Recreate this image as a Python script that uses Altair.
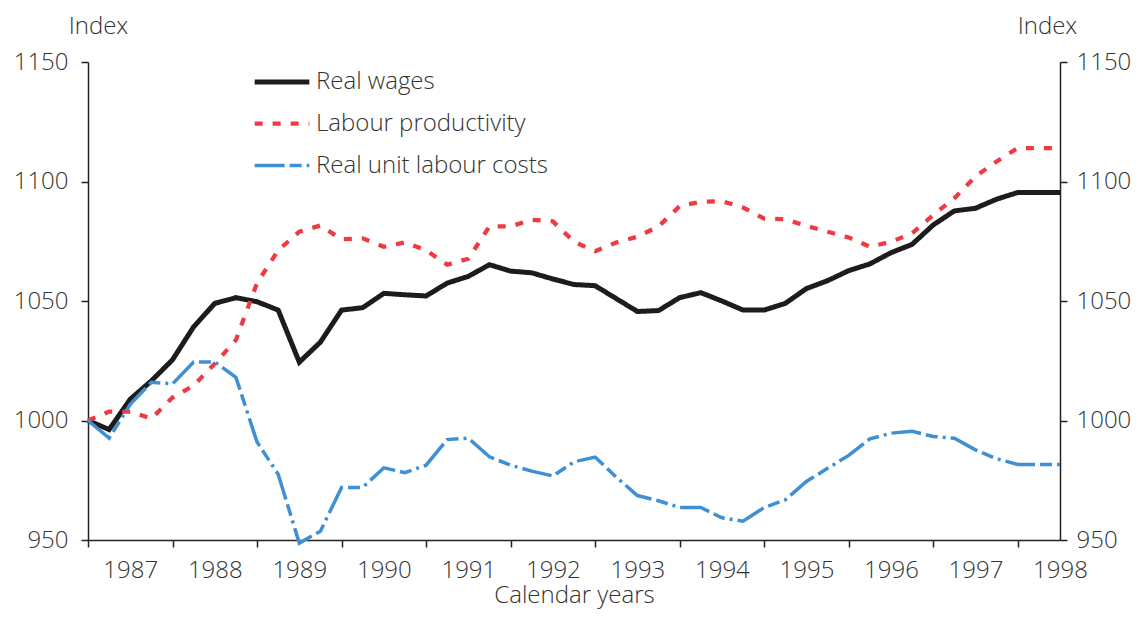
import json
import altair as alt
import pandas as pd

# quarterly index t (0 = first quarter shown), 47 observations
quarters = list(range(47))
year_labels = ["1987", "1988", "1989", "1990", "1991", "1992",
               "1993", "1994", "1995", "1996", "1997", "1998"]

series_names = ["Real wages", "Labour productivity", "Real unit labour costs"]

real_wages = [1000, 996.2, 1008.9, 1016.6, 1025.4, 1039.2, 1049, 1051.4, 1049.7, 1046.2,
              1024.4, 1032.8, 1046.2, 1047.2, 1053.2, 1052.6, 1052.1, 1057.5, 1060.3, 1065.2,
              1062.5, 1061.8, 1059.2, 1056.9, 1056.4, 1051, 1045.6, 1046, 1051.4, 1053.5,
              1050, 1046.2, 1046.2, 1049, 1055.2, 1058.5, 1062.7, 1065.5, 1070.2, 1073.7,
              1081.8, 1087.7, 1088.8, 1092.6, 1095.4, 1095.4, 1095.4]

labour_productivity = [1000, 1003.7, 1003.7, 1000.8, 1009.6, 1014.6, 1023.8, 1033.7, 1057.5, 1071.2,
                       1079, 1081.6, 1075.8, 1076.2, 1072.7, 1074.5, 1071.2, 1065.2, 1067.7, 1081.2,
                       1081.2, 1084, 1083.3, 1074.8, 1070.8, 1074.5, 1076.9, 1081.2, 1089.7, 1091.5,
                       1091.8, 1089.1, 1084.5, 1084.2, 1081.4, 1079, 1076.6, 1072.7, 1074.8, 1078.3,
                       1086, 1093, 1102.1, 1108.4, 1114, 1114, 1114]

real_unit_labour_costs = [1000, 992.6, 1006.8, 1016, 1015.3, 1024.5, 1024.5, 1018.1, 991, 977.5,
                          948.7, 953.7, 972, 972, 980.2, 978.2, 981.3, 992, 992.6, 984.8,
                          981.3, 978.8, 976.8, 982.7, 984.7, 976.3, 968.6, 966.4, 963.6, 963.6,
                          959.3, 957.9, 963.6, 966.8, 974.5, 980, 985.4, 992.3, 994.7, 995.5,
                          993.3, 992.6, 987.7, 984, 981.6, 981.6, 981.6]

y_ticks = [950, 1000, 1050, 1100, 1150]

df = pd.DataFrame({
    "t": quarters,
    "Real wages": real_wages,
    "Labour productivity": labour_productivity,
    "Real unit labour costs": real_unit_labour_costs,
})
long = df.melt(id_vars="t", var_name="series", value_name="value")

FONT = "Open Sans"
WEIGHT = 300
TXT = "#333333"
AX = "#222222"

label_expr = ("datum.value % 4 == 2 ? " + json.dumps(year_labels) +
              "[(datum.value - 2) / 4] : ''")

x_enc = alt.X(
    "t:Q",
    scale=alt.Scale(domain=[0, 46], nice=False, zero=False),
    axis=alt.Axis(
        values=list(range(0, 47, 2)),
        labelExpr=label_expr,
        tickColor={"condition": {"test": "datum.value % 4 == 0", "value": AX},
                   "value": "transparent"},
        title="Calendar years",
        titleY=62,
        titleBaseline="alphabetic",
        titleFontSize=24,
        labelFontSize=24,
        labelPadding=11,
        labelFlush=False,
        labelOverlap=False,
    ),
)

y_scale = alt.Scale(domain=[950, 1150], nice=False, zero=False)


def make_legend():
    return alt.Legend(title=None, orient="none", legendX=164, legendY=-10,
                      symbolType="stroke", symbolSize=2990,
                      labelFontSize=24, labelFont=FONT, labelColor=TXT,
                      labelFontWeight=WEIGHT,
                      labelOffset=4, rowPadding=0, labelLimit=400)


lines = alt.Chart(long).mark_line(interpolate="linear").encode(
    x=x_enc,
    y=alt.Y("value:Q", scale=y_scale,
            axis=alt.Axis(values=y_ticks, orient="left", title="Index", format="d",
                          titleAngle=0, titleX=10, titleY=-29,
                          titleAlign="center", titleBaseline="alphabetic",
                          labelFontSize=24, labelPadding=13)),
    color=alt.Color("series:N",
                    scale=alt.Scale(domain=series_names,
                                    range=["#1c1c1c", "#ee3a43", "#3f8fd4"]),
                    legend=make_legend()),
    strokeDash=alt.StrokeDash("series:N",
                              scale=alt.Scale(domain=series_names,
                                              range=[[1, 0], [8, 10], [30, 5, 12, 5, 3, 5]]),
                              legend=make_legend()),
    strokeWidth=alt.StrokeWidth("series:N",
                                scale=alt.Scale(domain=series_names, range=[5, 3.5, 3.5]),
                                legend=make_legend()),
)

right_axis = alt.Chart(long).mark_line(opacity=0).encode(
    x=alt.X("t:Q", scale=alt.Scale(domain=[0, 46], nice=False, zero=False)),
    y=alt.Y("value:Q", scale=y_scale,
            axis=alt.Axis(values=y_ticks, orient="right", title="Index", format="d",
                          titleAngle=0, titleX=-13, titleY=-29,
                          titleAlign="center", titleBaseline="alphabetic",
                          labelFontSize=24, labelPadding=9)),
    detail="series:N",
)

chart = alt.layer(lines, right_axis).resolve_scale(y="independent").resolve_axis(
    y="independent"
).properties(
    width=972, height=478,
    autosize=alt.AutoSizeParams(type="none"),
    padding={"left": 80, "top": 54, "right": 71, "bottom": 69},
).configure_view(stroke=None).configure_axis(
    grid=False,
    domainColor=AX, domainWidth=1.5,
    tickColor=AX, tickWidth=1.5, tickSize=7,
    labelFont=FONT, labelFontSize=24, labelColor=TXT, labelFontWeight=WEIGHT,
    titleFont=FONT, titleFontSize=24, titleColor=TXT, titleFontWeight=WEIGHT,
)

chart.save("out.html", embed_options={"renderer": "svg", "actions": False})
